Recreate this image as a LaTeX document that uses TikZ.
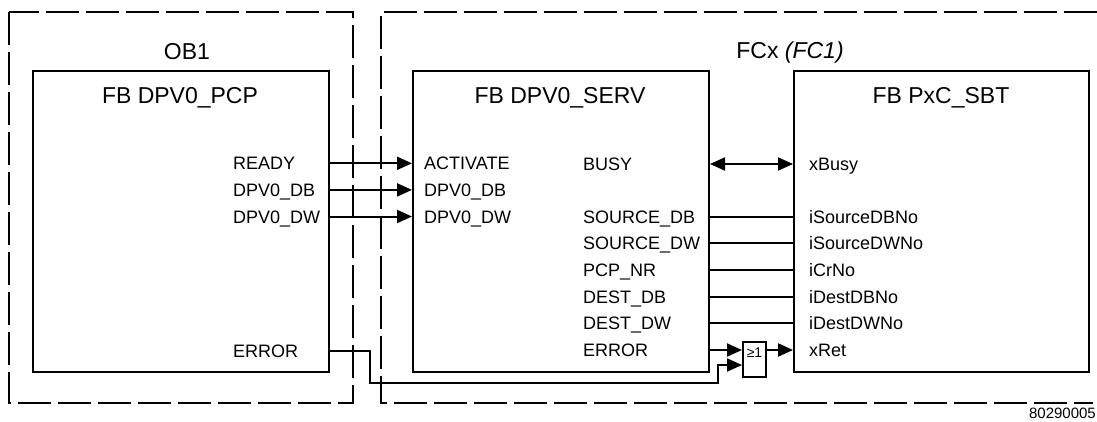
\documentclass[tikz,border=0pt]{standalone}
\usepackage{fontspec}
\setmainfont{Liberation Sans}
\usetikzlibrary{arrows.meta}
\tikzset{
  fb/.style={draw,line width=2pt,anchor=north west,minimum width=296pt,minimum height=301pt,inner sep=0pt},
  outline/.style={line width=2pt,dash pattern=on 33pt off 7pt},
  ttl/.style={anchor=base,inner sep=0pt,font=\fontsize{23}{26}\selectfont},
  port/.style={anchor=west,inner sep=0pt,text height=13pt,text depth=0pt,font=\fontsize{18}{20}\selectfont},
  gate/.style={draw,line width=2pt,anchor=north west,minimum width=23pt,minimum height=35pt,inner sep=0pt,
    text height=10pt,text depth=15pt,font=\fontsize{14}{15}\selectfont},
  sig/.style={line width=2pt}
}
\begin{document}
\begin{tikzpicture}[x=1pt,y=-1pt,>={Triangle[length=15pt,width=13pt]}]
\useasboundingbox (0,0) rectangle (1097,421);
\draw[outline] (9,12) rectangle (353,403);
\draw[outline] (1097,12) -| (381,403) -- (1093,403);
\node[ttl] (ob) at (187,59) {OB1}; \node[ttl] (fc) at (790,58) {FCx \textit{(FC1)}};
\node[fb] (P) at (32,70) {}; \node[fb] (S) at (412,70) {}; \node[fb,minimum width=295pt] (B) at (793,70) {};
\node[ttl] (Pt) at (180,103) {FB DPV0\_PCP}; \node[ttl] (St) at (560,103) {FB DPV0\_SERV};
\node[ttl] (Bt) at (941,103) {FB PxC\_SBT};
\foreach \n/\a/\b/\y in {1/READY/ACTIVATE/163.3,2/DPV0\_DB/DPV0\_DB/189.9,3/DPV0\_DW/DPV0\_DW/216.5}{
  \node[port] (po\n) at (233,\y) {\a}; \node[port] (si\n) at (424,\y) {\b};
  \draw[sig,->] (po\n -| P.east) -- (si\n -| S.west);
}
\node[port] (busy) at (583,164) {BUSY}; \node[port] (xbusy) at (809,164) {xBusy};
\draw[sig,<->] (busy -| S.east) -- (xbusy -| B.west);
\foreach \n/\a/\b/\y in {1/SOURCE\_DB/iSourceDBNo/216.5,2/SOURCE\_DW/iSourceDWNo/243.2,3/PCP\_NR/iCrNo/269.9,
  4/DEST\_DB/iDestDBNo/296.6,5/DEST\_DW/iDestDWNo/323.3}{
  \node[port] (so\n) at (583,\y) {\a}; \node[port] (bi\n) at (809,\y) {\b};
  \draw[sig] (so\n -| S.east) -- (bi\n -| B.west);
}
\node[port] (perr) at (233,350.5) {ERROR}; \node[port] (serr) at (583,350) {ERROR};
\node[port] (xret) at (809,350) {xRet};
\node[gate] (G) at (742,341) {≥1};
\coordinate (gin) at ([yshift=-5.5pt]G.west);
\draw[sig,->] (serr -| S.east) -- (serr -| G.west);
\draw[sig,->] (perr -| P.east) -- (370,350.5) |- (718,383) |- (gin);
\draw[sig,->] (serr -| G.east) -- (xret -| B.west);
\node[anchor=base east,inner sep=0pt,font=\fontsize{15}{16}\selectfont] (num) at (1096,418) {80290005};
\end{tikzpicture}
\end{document}
